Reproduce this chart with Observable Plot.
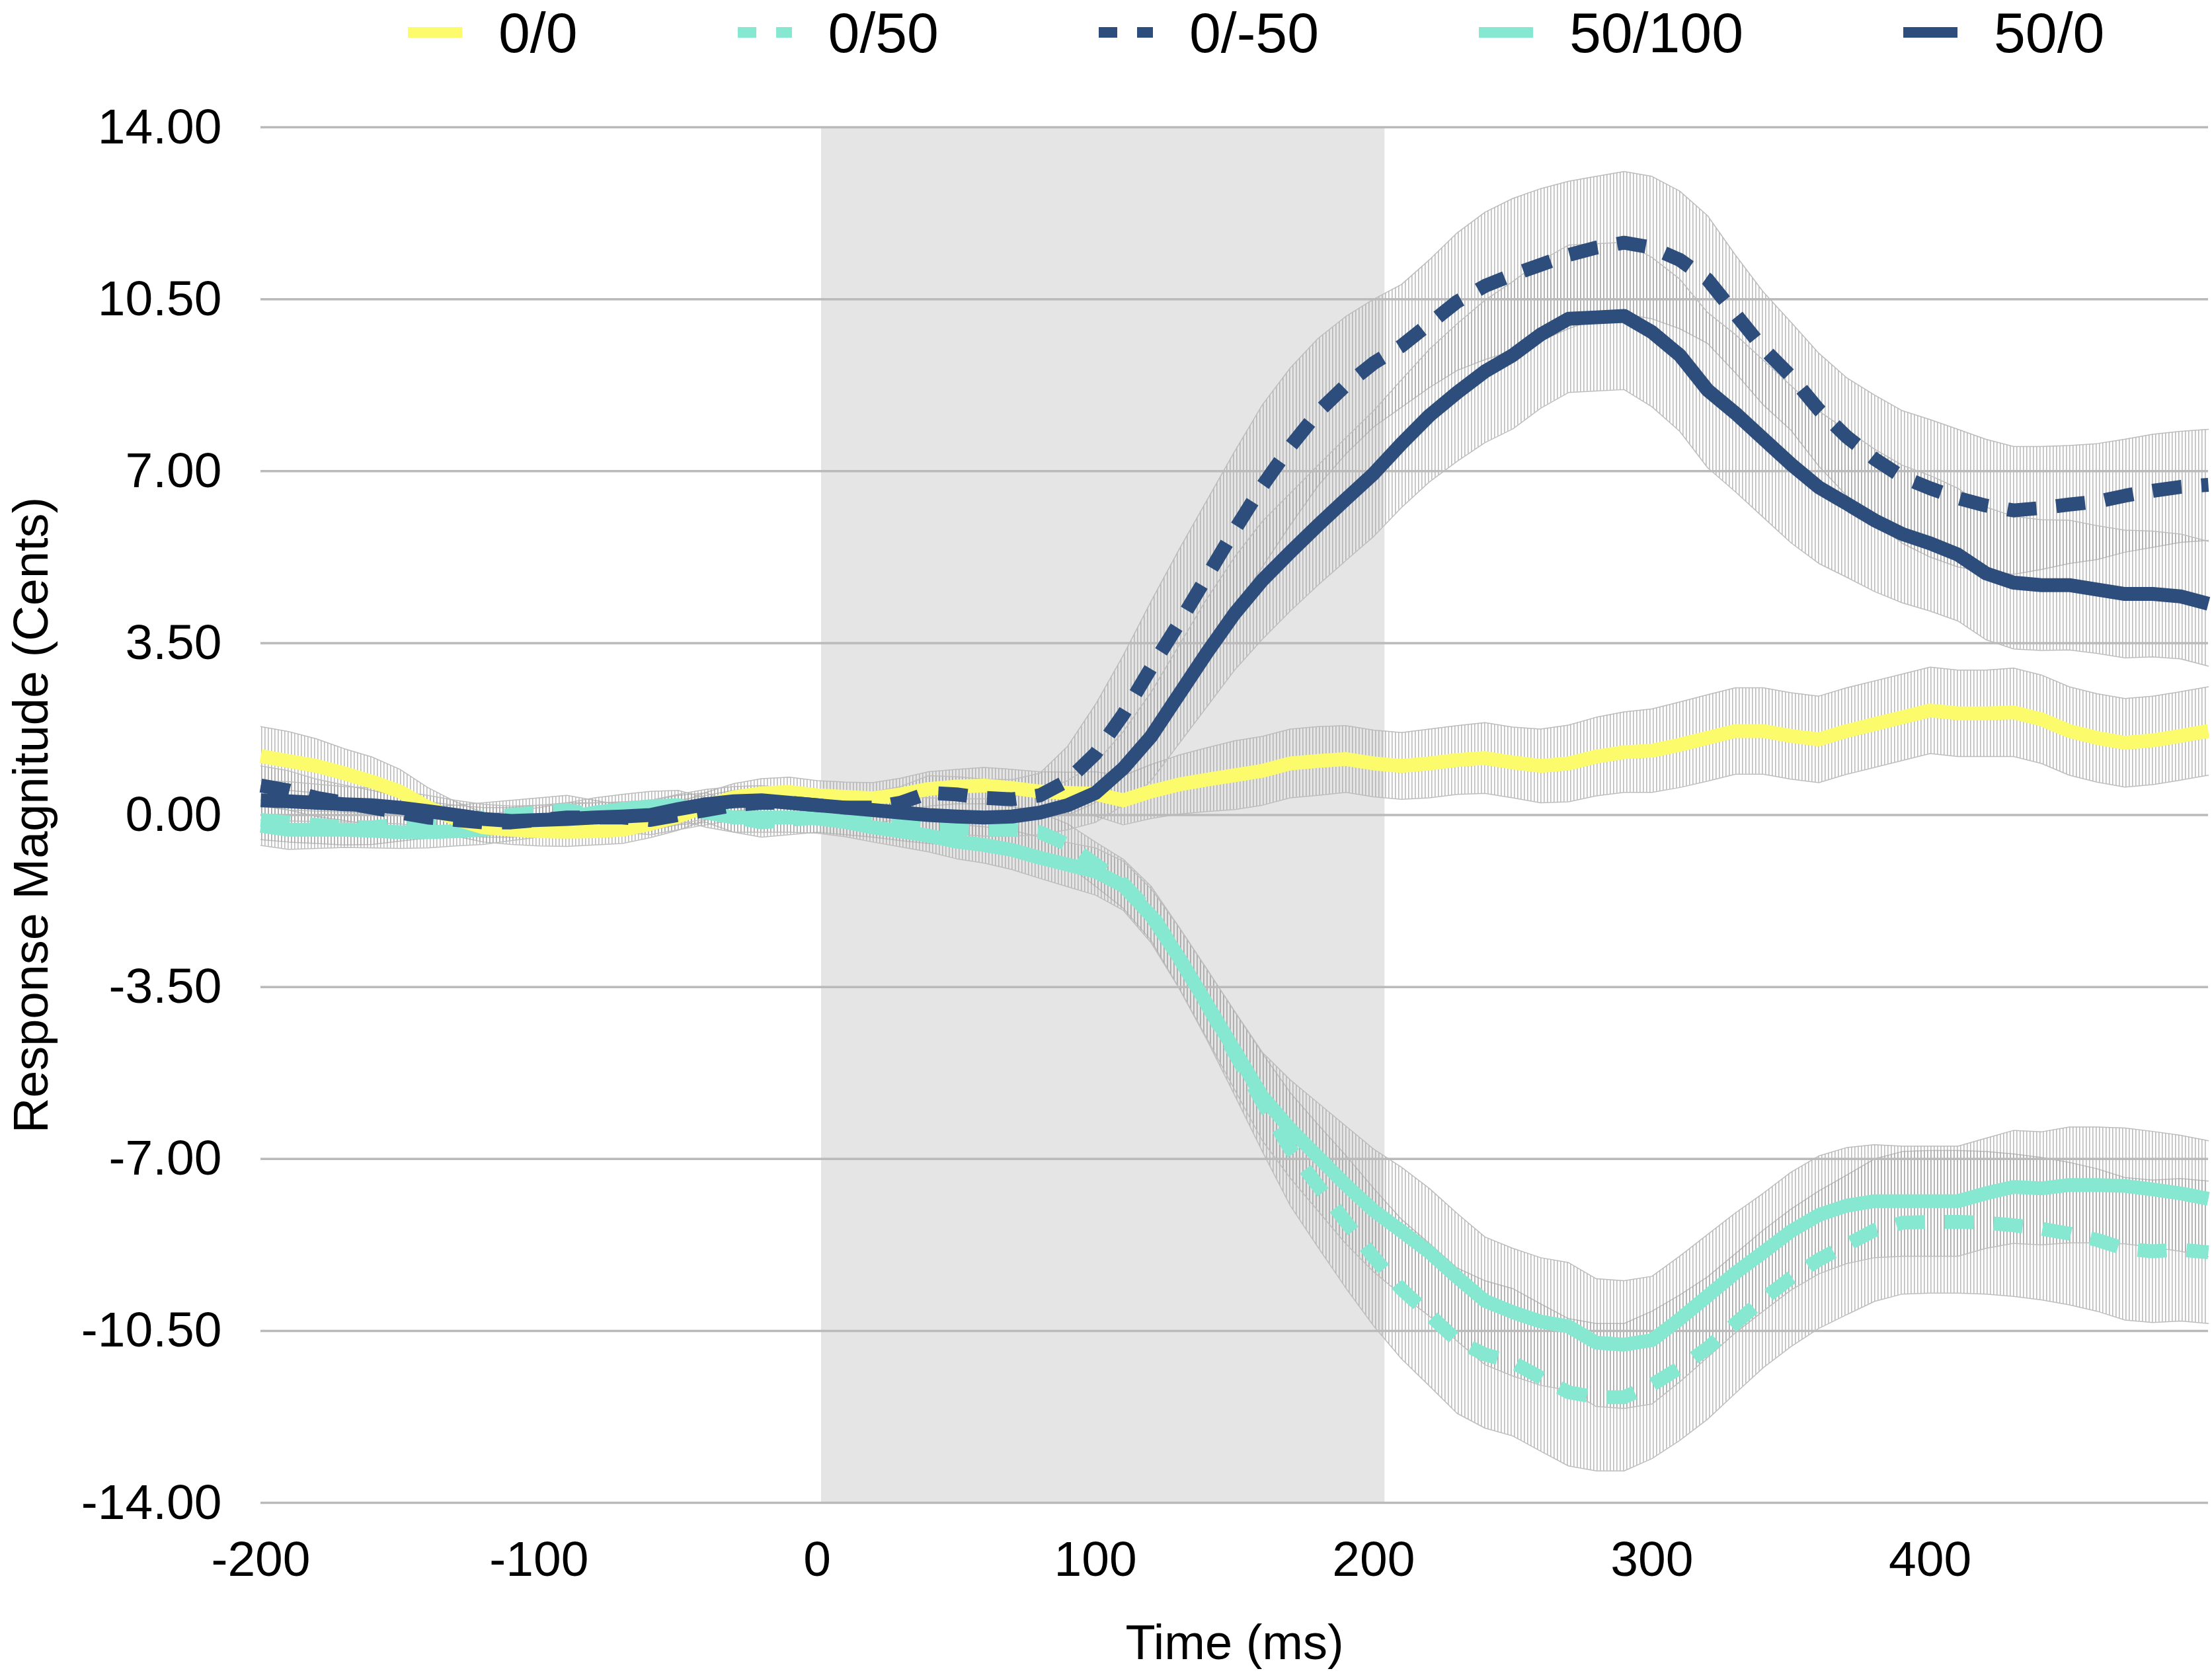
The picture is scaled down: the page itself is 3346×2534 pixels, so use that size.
<!DOCTYPE html>
<html><head><meta charset="utf-8">
<script src="https://cdn.jsdelivr.net/npm/d3@7"></script>
<script src="https://cdn.jsdelivr.net/npm/@observablehq/plot@0.6"></script>
<style>
html,body{margin:0;padding:0;background:#fff;}
body{position:relative;width:3346px;height:2534px;overflow:hidden;font-family:"Liberation Sans",Arial,Helvetica,sans-serif;}
#legend{position:absolute;left:0;top:0;height:98px;display:flex;align-items:center;padding-left:617px;box-sizing:border-box;font-size:86px;line-height:1;color:#000;z-index:2;}
.item{display:flex;align-items:center;margin-right:242px;}
.item svg{display:block;}
.item span{margin-left:55px;white-space:nowrap;}
#chart svg{display:block;}
</style></head><body>
<div id="legend"></div><div id="chart"></div>
<script>
const time = [-200,-190,-180,-170,-160,-150,-140,-130,-120,-110,
  -100,-90,-80,-70,-60,-50,-40,-30,-20,-10,
  0,10,20,30,40,50,60,70,80,90,
  100,110,120,130,140,150,160,170,180,190,
  200,210,220,230,240,250,260,270,280,290,
  300,310,320,330,340,350,360,370,380,390,
  400,410,420,430,440,450,460,470,480,490,
  500];

const seriesNames = ["0/0", "0/50", "0/-50", "50/100", "50/0"];
const seriesColors = ["#fbfb6c", "#86e8d0", "#2d4d7c", "#86e8d0", "#2d4d7c"];
const seriesDashed = [false, true, true, false, false];

const v00 = [1.2,1.1,1.0,0.85,0.68,0.48,0.16,-0.08,-0.25,-0.3,
  -0.33,-0.34,-0.33,-0.3,-0.18,-0.03,0.18,0.36,0.44,0.47,
  0.4,0.37,0.34,0.42,0.53,0.58,0.6,0.55,0.48,0.45,
  0.43,0.3,0.48,0.62,0.72,0.81,0.9,1.05,1.1,1.14,
  1.05,1.0,1.05,1.12,1.16,1.07,1.0,1.05,1.19,1.28,
  1.31,1.43,1.57,1.71,1.71,1.61,1.54,1.71,1.85,1.99,
  2.13,2.07,2.07,2.09,1.95,1.71,1.57,1.47,1.52,1.61,
  1.71];
const e00 = [0.6,0.6,0.55,0.5,0.5,0.45,0.4,0.35,0.3,0.3,
  0.3,0.3,0.28,0.28,0.28,0.28,0.28,0.28,0.3,0.3,
  0.3,0.3,0.32,0.33,0.35,0.35,0.37,0.38,0.4,0.42,
  0.45,0.5,0.55,0.6,0.65,0.7,0.7,0.7,0.7,0.68,
  0.68,0.68,0.7,0.7,0.72,0.72,0.75,0.78,0.8,0.82,
  0.85,0.87,0.88,0.88,0.88,0.88,0.88,0.88,0.88,0.88,
  0.88,0.88,0.88,0.9,0.9,0.9,0.9,0.9,0.9,0.9,
  0.9];

const v050 = [-0.1,-0.15,-0.2,-0.25,-0.25,-0.2,-0.15,-0.1,-0.05,0.0,
  0.05,0.1,0.0,-0.1,0.0,0.1,0.15,-0.05,-0.15,-0.1,
  -0.05,-0.1,-0.15,-0.2,-0.25,-0.27,-0.29,-0.3,-0.35,-0.6,
  -1.0,-1.4,-2.0,-2.9,-3.85,-4.85,-5.85,-6.8,-7.55,-8.28,
  -9.0,-9.65,-10.17,-10.7,-10.98,-11.14,-11.45,-11.75,-11.85,-11.85,
  -11.6,-11.25,-10.85,-10.35,-9.85,-9.42,-9.05,-8.75,-8.45,-8.3,
  -8.28,-8.28,-8.3,-8.35,-8.42,-8.52,-8.65,-8.83,-8.88,-8.85,
  -8.9];
const e050 = [0.4,0.4,0.38,0.36,0.35,0.33,0.32,0.3,0.3,0.3,
  0.3,0.3,0.3,0.3,0.3,0.3,0.3,0.3,0.3,0.3,
  0.3,0.3,0.3,0.32,0.33,0.35,0.37,0.4,0.4,0.42,
  0.45,0.5,0.55,0.62,0.72,0.85,1.0,1.15,1.25,1.35,
  1.4,1.42,1.45,1.48,1.5,1.5,1.5,1.5,1.5,1.5,
  1.5,1.48,1.45,1.42,1.4,1.4,1.4,1.42,1.45,1.45,
  1.45,1.45,1.45,1.45,1.45,1.45,1.45,1.45,1.45,1.45,
  1.45];

const v0m50 = [0.6,0.5,0.35,0.25,0.15,0.05,-0.05,-0.1,-0.15,-0.15,
  -0.1,-0.05,-0.05,-0.05,-0.1,0.0,0.1,0.2,0.25,0.25,
  0.2,0.15,0.15,0.25,0.45,0.42,0.35,0.32,0.4,0.7,
  1.25,2.05,3.0,3.9,4.85,5.8,6.7,7.5,8.2,8.75,
  9.2,9.55,10.0,10.45,10.77,11.0,11.2,11.4,11.55,11.65,
  11.55,11.3,10.9,10.2,9.5,8.93,8.25,7.7,7.25,6.88,
  6.65,6.45,6.3,6.2,6.25,6.32,6.38,6.5,6.6,6.68,
  6.72];
const e0m50 = [0.4,0.4,0.38,0.36,0.35,0.33,0.32,0.3,0.3,0.3,
  0.3,0.3,0.3,0.3,0.3,0.3,0.3,0.3,0.3,0.3,
  0.3,0.3,0.32,0.33,0.35,0.36,0.38,0.4,0.45,0.7,
  1.0,1.2,1.35,1.5,1.55,1.6,1.65,1.6,1.5,1.4,
  1.3,1.25,1.3,1.4,1.5,1.55,1.55,1.5,1.45,1.45,
  1.45,1.4,1.3,1.2,1.15,1.1,1.15,1.2,1.3,1.35,
  1.4,1.4,1.35,1.3,1.25,1.2,1.18,1.15,1.15,1.13,
  1.13];

const v50100 = [-0.22,-0.3,-0.3,-0.3,-0.32,-0.35,-0.35,-0.33,-0.3,-0.22,
  -0.15,-0.05,0.05,0.12,0.18,0.2,0.05,-0.05,-0.05,-0.05,
  -0.07,-0.14,-0.25,-0.33,-0.42,-0.54,-0.61,-0.71,-0.87,-1.01,
  -1.15,-1.44,-2.05,-2.9,-3.84,-4.79,-5.73,-6.39,-6.96,-7.53,
  -8.05,-8.47,-8.9,-9.41,-9.89,-10.12,-10.31,-10.41,-10.74,-10.78,
  -10.69,-10.26,-9.79,-9.32,-8.9,-8.47,-8.14,-7.95,-7.86,-7.86,
  -7.86,-7.86,-7.7,-7.57,-7.6,-7.53,-7.53,-7.55,-7.62,-7.7,
  -7.81];
const e50100 = [0.4,0.4,0.38,0.36,0.35,0.33,0.32,0.3,0.3,0.3,
  0.3,0.3,0.3,0.3,0.3,0.3,0.3,0.3,0.3,0.3,
  0.3,0.3,0.3,0.32,0.33,0.35,0.37,0.4,0.42,0.45,
  0.48,0.5,0.55,0.62,0.7,0.8,0.9,1.0,1.1,1.2,
  1.25,1.3,1.3,1.3,1.3,1.3,1.3,1.3,1.3,1.3,
  1.3,1.28,1.25,1.22,1.2,1.2,1.2,1.18,1.15,1.12,
  1.12,1.12,1.12,1.15,1.15,1.18,1.18,1.18,1.18,1.18,
  1.18];

const v500 = [0.3,0.28,0.25,0.22,0.2,0.15,0.08,0.0,-0.08,-0.12,
  -0.1,-0.08,-0.05,-0.03,0.0,0.12,0.22,0.28,0.3,0.25,
  0.2,0.15,0.1,0.05,0.0,-0.03,-0.05,-0.03,0.05,0.2,
  0.45,0.95,1.6,2.45,3.3,4.1,4.78,5.35,5.9,6.43,
  6.95,7.56,8.13,8.6,9.03,9.36,9.78,10.1,10.13,10.16,
  9.83,9.36,8.65,8.18,7.66,7.14,6.67,6.34,6.0,5.72,
  5.53,5.3,4.92,4.73,4.68,4.68,4.59,4.5,4.5,4.45,
  4.3];
const e500 = [0.4,0.4,0.38,0.36,0.35,0.33,0.32,0.3,0.3,0.3,
  0.3,0.3,0.3,0.3,0.3,0.3,0.3,0.3,0.3,0.3,
  0.3,0.3,0.32,0.33,0.35,0.36,0.38,0.4,0.45,0.5,
  0.6,0.75,0.9,1.0,1.1,1.15,1.2,1.2,1.22,1.25,
  1.28,1.3,1.35,1.4,1.45,1.5,1.5,1.5,1.5,1.5,
  1.52,1.55,1.58,1.6,1.6,1.6,1.55,1.5,1.45,1.4,
  1.38,1.35,1.35,1.35,1.33,1.32,1.3,1.3,1.28,1.27,
  1.27];

const seriesValues = [v00, v050, v0m50, v50100, v500];
const seriesErrors = [e00, e050, e0m50, e50100, e500];

const xDomain = [-200, 500];
const xTicks = [-200, -100, 0, 100, 200, 300, 400];
const yDomain = [-14, 14];
const yTicks = [-14, -10.5, -7, -3.5, 0, 3.5, 7, 10.5, 14];
const stimulusWindow = [1.5, 204];

const FONT = '"Liberation Sans", Arial, Helvetica, sans-serif';

const tables = seriesNames.map((name, si) => time.map((t, i) => ({
  series: name, t, v: seriesValues[si][i],
  lo: seriesValues[si][i] - seriesErrors[si][i],
  hi: seriesValues[si][i] + seriesErrors[si][i]
})));

// Legend
const legend = document.getElementById("legend");
seriesNames.forEach((name, si) => {
  const item = document.createElement("div");
  item.className = "item";
  const dash = seriesDashed[si] ? ' stroke-dasharray="28 30"' : '';
  item.innerHTML = `<svg width="82" height="16"><line x1="0" x2="82" y1="8" y2="8" stroke="${seriesColors[si]}" stroke-width="16"${dash}/></svg><span>${name}</span>`;
  legend.appendChild(item);
});

const drawOrder = [3, 1, 0, 2, 4];

const marks = [
  Plot.rect([{x1: stimulusWindow[0], x2: stimulusWindow[1]}], {x1: "x1", x2: "x2", y1: yDomain[0], y2: yDomain[1], fill: "#e5e5e5"})
];
seriesNames.forEach((name, si) => {
  marks.push(Plot.areaY(tables[si], {x: "t", y1: "lo", y2: "hi", fill: "url(#hatch)", fillOpacity: 0.75}));
  marks.push(Plot.line(tables[si], {x: "t", y: "lo", stroke: "#bdbdbd", strokeWidth: 1.5}));
  marks.push(Plot.line(tables[si], {x: "t", y: "hi", stroke: "#bdbdbd", strokeWidth: 1.5}));
});
marks.push(Plot.ruleY(yTicks, {stroke: "#bababa", strokeWidth: 3.5}));
drawOrder.forEach(si => {
  marks.push(Plot.line(tables[si], {
    x: "t", y: "v", stroke: seriesColors[si], strokeWidth: 21,
    strokeDasharray: seriesDashed[si] ? "44,30" : null,
    strokeLinejoin: "round", strokeLinecap: "butt"
  }));
});
marks.push(Plot.text(["Response Magnitude (Cents)"], {frameAnchor: "left", dx: -346, rotate: -90, fontSize: 74, textAnchor: "middle", lineAnchor: "middle", fill: "#000"}));
marks.push(Plot.text(["Time (ms)"], {frameAnchor: "bottom", dy: 213, fontSize: 74, textAnchor: "middle", lineAnchor: "middle", fill: "#000"}));

const chart = Plot.plot({
  width: 3346,
  height: 2534,
  marginTop: 192,
  marginBottom: 261,
  marginLeft: 394,
  marginRight: 6,
  style: {fontSize: "75px", fontFamily: FONT, color: "#000", background: "#fff"},
  x: {domain: xDomain, ticks: xTicks, tickSize: 0, tickPadding: 57, tickFormat: d => String(d), label: null},
  y: {domain: yDomain, ticks: yTicks, tickSize: 0, tickPadding: 59, tickFormat: d => d.toFixed(2), label: null},
  marks
});

const svg = chart.tagName.toLowerCase() === "svg" ? chart : chart.querySelector("svg");
const ns = "http://www.w3.org/2000/svg";
const defs = document.createElementNS(ns, "defs");
const pat = document.createElementNS(ns, "pattern");
pat.setAttribute("id", "hatch");
pat.setAttribute("patternUnits", "userSpaceOnUse");
pat.setAttribute("width", "5");
pat.setAttribute("height", "40");
const pr = document.createElementNS(ns, "rect");
pr.setAttribute("x", "0"); pr.setAttribute("y", "0");
pr.setAttribute("width", "1.6"); pr.setAttribute("height", "40");
pr.setAttribute("fill", "#a4a4a4");
pat.appendChild(pr); defs.appendChild(pat);
svg.insertBefore(defs, svg.firstChild);

document.getElementById("chart").appendChild(chart);
</script></body></html>
